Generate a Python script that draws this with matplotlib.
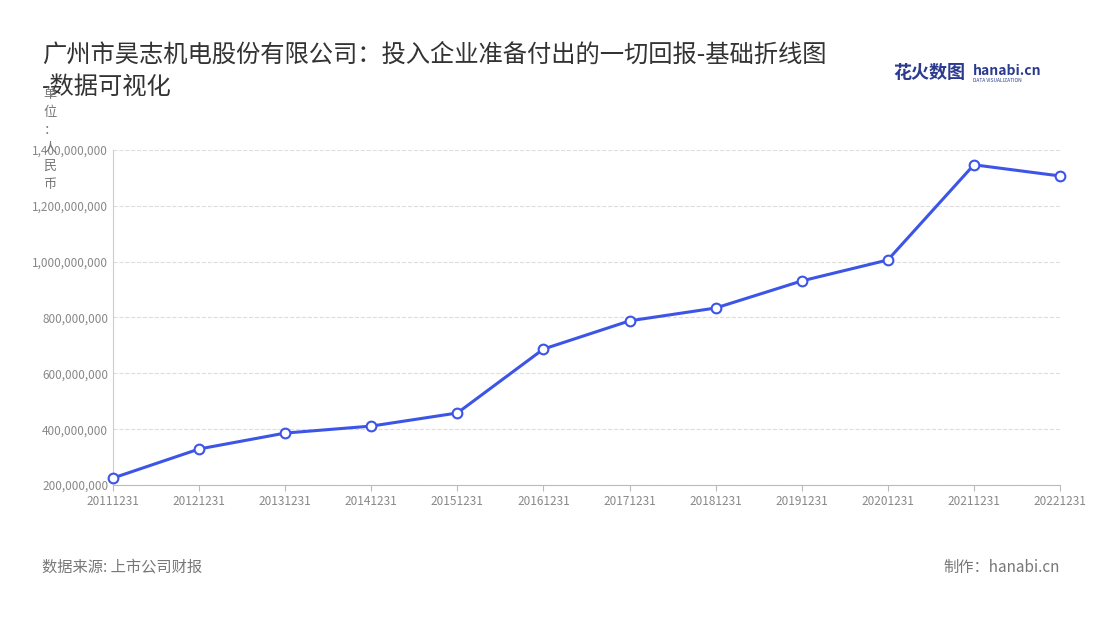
import matplotlib
matplotlib.use("Agg")
import matplotlib.pyplot as plt
from matplotlib.ticker import FuncFormatter

plt.rcParams['font.family'] = ['Noto Sans CJK SC', 'DejaVu Sans']

years = ["20111231","20121231","20131231","20141231","20151231","20161231",
         "20171231","20181231","20191231","20201231","20211231","20221231"]
values = [225e6, 329e6, 386e6, 411e6, 458e6, 687e6, 788e6, 834e6, 931e6, 1006e6, 1347e6, 1307e6]
yticks = [200e6, 400e6, 600e6, 800e6, 1000e6, 1200e6, 1400e6]

fig = plt.figure(figsize=(11, 6.2), dpi=100)
ax = fig.add_axes([113/1100, 1-485/620, (1060-113)/1100, (485-150)/620])
x = list(range(len(years)))
ax.plot(x, values, color='#3d55e6', lw=2.2, marker='o', ms=7,
        markerfacecolor='white', markeredgecolor='#3d55e6', markeredgewidth=1.5, zorder=3, clip_on=False)
ax.set_xlim(0, len(years)-1)
ax.set_ylim(200e6, 1400e6)
ax.set_yticks(yticks)
ax.yaxis.set_major_formatter(FuncFormatter(lambda v, p: f"{int(v):,}"))
ax.set_xticks(x)
ax.set_xticklabels(years)
ax.tick_params(axis='both', labelsize=8.5, colors='#888888', length=0)
ax.tick_params(axis='x', length=4, color='#bbbbbb')
ax.grid(axis='y', ls='--', color='#dddddd', lw=0.8)
for s in ['top', 'right']:
    ax.spines[s].set_visible(False)
ax.spines['left'].set_color('#cccccc')
ax.spines['bottom'].set_color('#bbbbbb')

fig.text(42/1100, 1-55/620, "广州市昊志机电股份有限公司：投入企业准备付出的一切回报-基础折线图", fontsize=17.5, color='#333333', va='center')
fig.text(42/1100, 1-87/620, "-数据可视化", fontsize=17.5, color='#333333', va='center')
fig.text(50/1100, 1-88/620, "单\n位\n：\n人\n民\n币", fontsize=9.5, color='#777777', va='top', ha='center', linespacing=1.5)
fig.text(893/1100, 1-73/620, "花火数图", fontsize=13, color='#2b3a8f', fontweight='bold', va='center')
fig.text(973/1100, 1-71/620, "hanabi.cn", fontsize=10, color='#2b3a8f', fontweight='bold', va='center')
fig.text(973/1100, 1-80/620, "DATA VISUALIZATION", fontsize=3.5, color='#2b3a8f', va='center')
fig.text(42/1100, 1-567/620, "数据来源: 上市公司财报", fontsize=11, color='#777777', va='center')
fig.text(1060/1100, 1-567/620, "制作：hanabi.cn", fontsize=11, color='#777777', va='center', ha='right')
fig.savefig("out.png", dpi=100)
